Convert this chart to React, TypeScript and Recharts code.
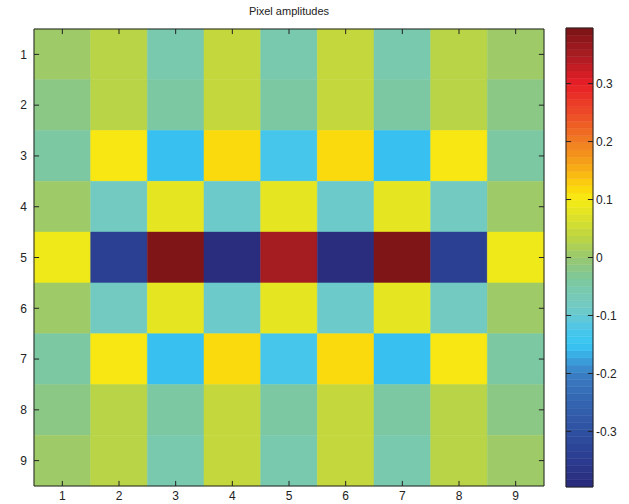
import { ScatterChart, Scatter, XAxis, YAxis, ZAxis, ReferenceArea, ReferenceLine } from 'recharts';

// 9x9 pixel amplitudes, read row by row (row 1 at the top)
const row1 = [0.0, 0.03, -0.05, 0.045, -0.05, 0.045, -0.05, 0.03, 0.0];
const row2 = [-0.015, 0.03, -0.04, 0.045, -0.04, 0.045, -0.04, 0.03, -0.015];
const row3 = [-0.04, 0.1, -0.15, 0.12, -0.125, 0.12, -0.15, 0.1, -0.04];
const row4 = [0.01, -0.08, 0.08, -0.09, 0.08, -0.09, 0.08, -0.08, 0.01];
const row5 = [0.09, -0.34, 0.39, -0.39, 0.35, -0.39, 0.39, -0.34, 0.09];
const row6 = [0.01, -0.08, 0.08, -0.09, 0.08, -0.09, 0.08, -0.08, 0.01];
const row7 = [-0.04, 0.1, -0.15, 0.12, -0.125, 0.12, -0.15, 0.1, -0.04];
const row8 = [-0.015, 0.03, -0.04, 0.045, -0.04, 0.045, -0.04, 0.03, -0.015];
const row9 = [0.0, 0.03, -0.05, 0.045, -0.05, 0.045, -0.05, 0.03, 0.0];
const rows = [row1, row2, row3, row4, row5, row6, row7, row8, row9];

const cellTicks = [1, 2, 3, 4, 5, 6, 7, 8, 9];
const barTicks = [-0.3, -0.2, -0.1, 0, 0.1, 0.2, 0.3];
const cMin = -0.396;
const cMax = 0.396;
const levels = 64;

// colormap stops as seen on the colorbar
const stops: [number, string][] = [
  [-0.396, '#2a2a7a'],
  [-0.35, '#2c3c90'],
  [-0.3, '#2e50a0'],
  [-0.25, '#3464b0'],
  [-0.2, '#3a7ec4'],
  [-0.175, '#3aa4de'],
  [-0.15, '#36c6f4'],
  [-0.12, '#50c6e6'],
  [-0.09, '#70cac8'],
  [-0.04, '#7cc8a0'],
  [0, '#98c870'],
  [0.03, '#b8d448'],
  [0.06, '#d4de30'],
  [0.1, '#f6ec14'],
  [0.12, '#fcd80c'],
  [0.15, '#f8b014'],
  [0.2, '#f07c22'],
  [0.25, '#ec4a28'],
  [0.3, '#e81e26'],
  [0.35, '#a81c22'],
  [0.396, '#7a1416'],
];

const hexToRgb = (h: string) => [1, 3, 5].map((i) => parseInt(h.slice(i, i + 2), 16));

function cmap(v: number) {
  if (v <= stops[0][0]) return stops[0][1];
  for (let i = 1; i < stops.length; i++) {
    const [v1, c1] = stops[i];
    if (v <= v1) {
      const [v0, c0] = stops[i - 1];
      const t = (v - v0) / (v1 - v0);
      const a = hexToRgb(c0);
      const b = hexToRgb(c1);
      return `rgb(${a.map((x, k) => Math.round(x + (b[k] - x) * t)).join(',')})`;
    }
  }
  return stops[stops.length - 1][1];
}

const step = (cMax - cMin) / levels;
const bands = Array.from({ length: levels }, (_, i) => ({
  y1: cMin + i * step,
  y2: cMin + (i + 1) * step,
  fill: cmap(cMin + (i + 0.5) * step),
}));

const levelColor = (v: number) => {
  const i = Math.min(levels - 1, Math.max(0, Math.floor((v - cMin) / step)));
  return bands[i].fill;
};

const cells = rows.flatMap((r, ri) =>
  r.map((value, ci) => ({ col: ci + 1, row: ri + 1, value, fill: levelColor(value) }))
);

const font = { fontSize: 12, fill: '#222', fontFamily: 'Liberation Sans, Arial, sans-serif' };
const ink = '#222';

// inward tick length, in axis units (~5px)
const tickX = 0.09;
const tickY = 0.1;
const cbTickX = 0.19;

export default function App() {
  return (
    <div style={{ position: 'absolute', left: 0, top: 0, width: 629, height: 504, background: '#fff' }}>
      <div
        style={{
          position: 'absolute',
          left: 34,
          top: 5,
          width: 510,
          textAlign: 'center',
          fontFamily: 'Liberation Sans, Arial, sans-serif',
          fontSize: 11,
          color: ink,
        }}
      >
        Pixel amplitudes
      </div>

      <div style={{ position: 'absolute', left: 0, top: 0 }}>
        <ScatterChart width={570} height={504} margin={{ top: 29, right: 26, bottom: 0, left: 0 }}>
          <XAxis
            type="number"
            dataKey="col"
            domain={[0.5, 9.5]}
            ticks={cellTicks}
            tick={font}
            tickLine={false}
            tickSize={0}
            tickMargin={5}
            axisLine={false}
            height={18}
          />
          <YAxis
            type="number"
            dataKey="row"
            domain={[0.5, 9.5]}
            ticks={cellTicks}
            reversed
            tick={font}
            tickLine={false}
            tickSize={0}
            tickMargin={7}
            axisLine={false}
            width={34}
          />
          <ZAxis range={[0, 0]} />
          {cells.map((c) => (
            <ReferenceArea
              key={`${c.row}-${c.col}`}
              x1={c.col - 0.5}
              x2={c.col + 0.5}
              y1={c.row - 0.5}
              y2={c.row + 0.5}
              fill={c.fill}
              fillOpacity={1}
              stroke={c.fill}
              strokeWidth={0.5}
            />
          ))}
          <ReferenceArea x1={0.5} x2={9.5} y1={0.5} y2={9.5} fill="none" stroke={ink} strokeWidth={1} />
          {cellTicks.flatMap((t) => [
            <ReferenceLine key={`b${t}`} segment={[{ x: t, y: 9.5 }, { x: t, y: 9.5 - tickY }]} stroke={ink} />,
            <ReferenceLine key={`t${t}`} segment={[{ x: t, y: 0.5 }, { x: t, y: 0.5 + tickY }]} stroke={ink} />,
            <ReferenceLine key={`l${t}`} segment={[{ x: 0.5, y: t }, { x: 0.5 + tickX, y: t }]} stroke={ink} />,
            <ReferenceLine key={`r${t}`} segment={[{ x: 9.5, y: t }, { x: 9.5 - tickX, y: t }]} stroke={ink} />,
          ])}
          <Scatter data={cells} fill="none" isAnimationActive={false} />
        </ScatterChart>
      </div>

      <div style={{ position: 'absolute', left: 540, top: 0 }}>
        <ScatterChart width={89} height={504} margin={{ top: 28, right: 0, bottom: 17, left: 26 }}>
          <XAxis type="number" dataKey="x" domain={[0, 1]} hide />
          <YAxis
            type="number"
            dataKey="y"
            orientation="right"
            domain={[cMin, cMax]}
            ticks={barTicks}
            tick={font}
            tickFormatter={(v: number) => String(v)}
            tickLine={false}
            tickSize={0}
            tickMargin={3}
            axisLine={false}
            width={36}
          />
          <ZAxis range={[0, 0]} />
          {bands.map((b, i) => (
            <ReferenceArea
              key={i}
              x1={0}
              x2={1}
              y1={b.y1}
              y2={b.y2}
              fill={b.fill}
              fillOpacity={1}
              stroke={b.fill}
              strokeWidth={0.5}
            />
          ))}
          <ReferenceArea x1={0} x2={1} y1={cMin} y2={cMax} fill="none" stroke={ink} strokeWidth={1} />
          {barTicks.flatMap((t) => [
            <ReferenceLine key={`l${t}`} segment={[{ x: 0, y: t }, { x: cbTickX, y: t }]} stroke={ink} />,
            <ReferenceLine key={`r${t}`} segment={[{ x: 1, y: t }, { x: 1 - cbTickX, y: t }]} stroke={ink} />,
          ])}
          <Scatter data={bands.map((b) => ({ x: 0.5, y: (b.y1 + b.y2) / 2 }))} fill="none" isAnimationActive={false} />
        </ScatterChart>
      </div>
    </div>
  );
}
